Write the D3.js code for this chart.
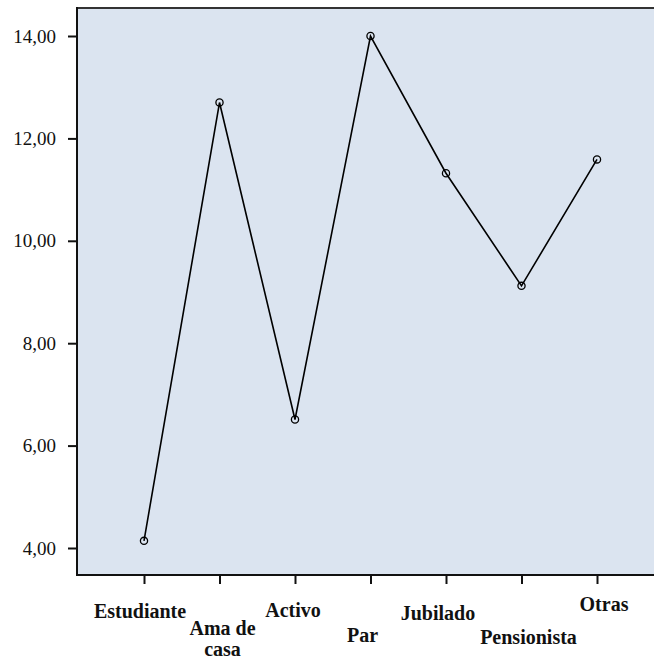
<!DOCTYPE html>
<html>
<head>
<meta charset="utf-8">
<script src="https://cdn.jsdelivr.net/npm/d3@7"></script>
<style>
  html, body { margin: 0; padding: 0; background: #ffffff; }
  svg { display: block; }
</style>
</head>
<body>
<script>
// ---- data ----
const categories = ["Estudiante", "Ama de casa", "Activo", "Par", "Jubilado", "Pensionista", "Otras"];
const values = [4.14, 12.70, 6.51, 14.00, 11.32, 9.12, 11.59];
const yTicks = [4, 6, 8, 10, 12, 14];
// label lines (wrapped as in the original)
const labelLines = [["Estudiante"], ["Ama de", "casa"], ["Activo"], ["Par"], ["Jubilado"], ["Pensionista"], ["Otras"]];

// ---- layout (not data) ----
const W = 654, H = 659;
const frame = { left: 77, right: 654, top: 8, bottom: 575 };
const labelDx = [-4, 3, -2, -8, -8, 7, 7];
const labelY = [618, 635, 617, 642, 620, 644, 611];
const lineGap = 21;

const svg = d3.select("body").append("svg").attr("width", W).attr("height", H);

const x = d3.scalePoint().domain(categories).range([144, 597]);
const y = d3.scaleLinear().domain([4, 14]).range([548, 36]);

// plot background
svg.append("rect")
  .attr("x", frame.left).attr("y", frame.top)
  .attr("width", frame.right - frame.left).attr("height", frame.bottom - frame.top)
  .attr("fill", "#dbe4f0");

// top border
svg.append("line").attr("x1", frame.left).attr("x2", frame.right)
  .attr("y1", frame.top).attr("y2", frame.top)
  .attr("stroke", "#333").attr("stroke-width", 2);

// y axis
const yAxis = d3.axisLeft(y).tickValues(yTicks).tickSize(9).tickPadding(12)
  .tickFormat(d => d3.format(".2f")(d).replace(".", ","));
const gy = svg.append("g").attr("transform", `translate(${frame.left},0)`).call(yAxis);
gy.select(".domain").remove();
gy.append("line").attr("x1", 0).attr("x2", 0).attr("y1", frame.top - 1).attr("y2", frame.bottom + 1)
  .attr("stroke", "#111").attr("stroke-width", 2);
gy.selectAll(".tick line").attr("stroke", "#111").attr("stroke-width", 2);
gy.selectAll(".tick text")
  .attr("font-family", "'Liberation Serif', 'Times New Roman', serif")
  .attr("font-size", 19).attr("fill", "#111");

// x axis
const xAxis = d3.axisBottom(x).tickSize(9).tickFormat("");
const gx = svg.append("g").attr("transform", `translate(0,${frame.bottom})`).call(xAxis);
gx.select(".domain").remove();
gx.append("line").attr("x1", frame.left - 1).attr("x2", frame.right)
  .attr("y1", 0).attr("y2", 0).attr("stroke", "#111").attr("stroke-width", 2);
gx.selectAll(".tick line").attr("stroke", "#111").attr("stroke-width", 2);

// x labels
const lab = svg.append("g");
categories.forEach((c, i) => {
  const t = lab.append("text")
    .attr("x", x(c) + labelDx[i]).attr("y", labelY[i])
    .attr("text-anchor", "middle")
    .attr("font-family", "'Liberation Serif', 'Times New Roman', serif")
    .attr("font-weight", "bold").attr("font-size", 20).attr("fill", "#111");
  labelLines[i].forEach((ln, k) => {
    t.append("tspan").attr("x", x(c) + labelDx[i]).attr("dy", k === 0 ? 0 : lineGap).text(ln);
  });
});

// line
const pts = categories.map((c, i) => [x(c), y(values[i])]);
svg.append("path")
  .attr("d", d3.line()(pts))
  .attr("fill", "none").attr("stroke", "#000").attr("stroke-width", 1.6);

// markers
svg.append("g").selectAll("circle").data(pts).join("circle")
  .attr("cx", d => d[0]).attr("cy", d => d[1]).attr("r", 3.6)
  .attr("fill", "none").attr("stroke", "#000").attr("stroke-width", 1.3);
</script>
</body>
</html>
